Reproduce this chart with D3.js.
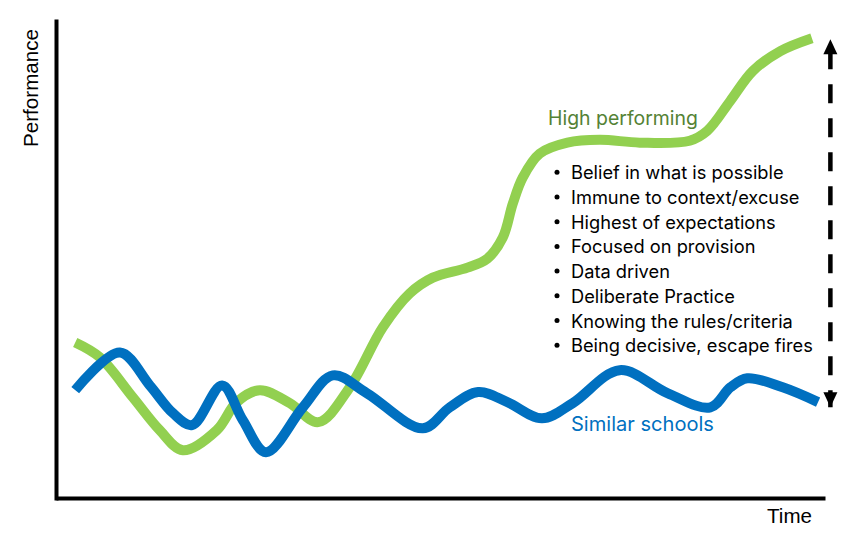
<!DOCTYPE html>
<html><head><meta charset="utf-8">
<script src="https://cdn.jsdelivr.net/npm/d3@7"></script>
<style>html,body{margin:0;padding:0;background:#fff}svg{display:block}</style>
</head><body>
<svg id="chart" width="866" height="536"></svg>
<script>
// ---- data (time 0-100, performance 0-100) ----
const highTime = [2.5, 5.7, 10.0, 13.5, 16.5, 20.9, 23.5, 26.5, 30.4, 34.1, 38.2, 42.5, 46.0, 49.0, 53.5, 56.1, 58.1, 59.4, 60.7, 62.9, 66.5, 70.7, 75.9, 82.4, 84.7, 87.7, 90.6, 94.2, 98.3];
const highPerf = [32.6, 29.5, 21.1, 14.2, 10.0, 14.2, 20.1, 22.6, 19.9, 15.9, 23.2, 35.8, 42.9, 46.2, 48.3, 50.2, 54.6, 61.7, 67.2, 72.2, 74.5, 75.1, 74.5, 74.9, 77.0, 83.3, 89.5, 93.7, 96.4];
const similarTime = [2.5, 8.3, 12.2, 15.2, 17.7, 21.6, 24.3, 27.3, 32.1, 36.0, 40.4, 47.7, 51.2, 54.9, 58.7, 63.2, 67.2, 73.3, 79.5, 85.1, 87.7, 89.9, 94.5, 99.1];
const similarPerf = [22.6, 30.5, 23.6, 17.8, 15.3, 23.6, 16.3, 9.6, 19.0, 25.7, 22.0, 14.6, 19.0, 22.2, 20.1, 16.7, 19.9, 26.8, 22.0, 19.0, 23.2, 25.1, 23.2, 20.1];
const seriesNames = ["High performing", "Similar schools"];
const bulletItems = ["Belief in what is possible", "Immune to context/excuse", "Highest of expectations", "Focused on provision", "Data driven", "Deliberate Practice", "Knowing the rules/criteria", "Being decisive, escape fires"];
const axisTitles = ["Time", "Performance"];
const gapArrowTime = 100.7;
const gapArrowPerf = [96.2, 19.0];

// ---- setup ----
const svg = d3.select("#chart");
const x = d3.scaleLinear().domain([0, 100]).range([56, 825]);
const y = d3.scaleLinear().domain([0, 100]).range([498, 21]);

function fit(sel, target) {
  const w = sel.node().getComputedTextLength();
  const fs = parseFloat(sel.attr("font-size"));
  sel.attr("font-size", (fs * target / w).toFixed(2));
  return fs * target / w;
}

// axes
const gx = svg.append("g").attr("transform", `translate(0,${y(0)})`)
  .call(d3.axisBottom(x).tickValues([]).tickSizeOuter(0));
gx.select(".domain").attr("stroke", "#000").attr("stroke-width", 4).attr("stroke-linecap", "butt");
const gy = svg.append("g").attr("transform", `translate(${x(0)},0)`)
  .call(d3.axisLeft(y).tickValues([]).tickSizeOuter(0));
gy.select(".domain").attr("stroke", "#000").attr("stroke-width", 4).attr("stroke-linecap", "square");

// axis titles
const tTime = svg.append("text").attr("x", 767).attr("y", 523)
  .attr("font-family", "'Liberation Sans', Arial, sans-serif").attr("font-size", 19)
  .attr("fill", "#000").text(axisTitles[0]);
fit(tTime, 45);
const tPerf = svg.append("text").attr("transform", "translate(38,88) rotate(-90)")
  .attr("text-anchor", "middle")
  .attr("font-family", "'Liberation Sans', Arial, sans-serif").attr("font-size", 19)
  .attr("fill", "#000").text(axisTitles[1]);
fit(tPerf, 118);

// lines
const line = d3.line().x(d => x(d[0])).y(d => y(d[1])).curve(d3.curveCatmullRom.alpha(0.5));
const highData = d3.zip(highTime, highPerf);
const simData = d3.zip(similarTime, similarPerf);

svg.append("path").datum(highData).attr("d", line)
  .attr("fill", "none").attr("stroke", "#92D050").attr("stroke-width", 10).attr("stroke-linecap", "butt").attr("stroke-linejoin", "round");
svg.append("path").datum(simData).attr("d", line)
  .attr("fill", "none").attr("stroke", "#0070C0").attr("stroke-width", 10).attr("stroke-linecap", "butt").attr("stroke-linejoin", "round");

// series labels
const font2 = "Inter, 'Open Sans', 'Noto Sans', sans-serif";
const hl = svg.append("text").attr("x", 548).attr("y", 125)
  .attr("font-family", font2).attr("font-size", 19).attr("fill", "#548235").text(seriesNames[0]);
fit(hl, 150);
const sl = svg.append("text").attr("x", 571).attr("y", 431)
  .attr("font-family", font2).attr("font-size", 19).attr("fill", "#0070C0").text(seriesNames[1]);
fit(sl, 143);

// bullet list
const bg = svg.append("g");
const rows = bg.selectAll("g.row").data(bulletItems).join("g").attr("class", "row")
  .attr("transform", (d, i) => `translate(0,${179.3 + i * 24.7})`);
rows.append("circle").attr("cx", 557).attr("cy", -7).attr("r", 2.5).attr("fill", "#000");
const txt = rows.append("text").attr("x", 571).attr("y", 0)
  .attr("font-family", font2).attr("font-size", 19).attr("fill", "#000").text(d => d);
const longest = txt.filter((d, i) => i === bulletItems.length - 1);
const fs = fit(longest, 242);
txt.attr("font-size", fs.toFixed(2));

// dashed double arrow
const ax = x(gapArrowTime);
const yTop = y(gapArrowPerf[0]);
const yBot = y(gapArrowPerf[1]);
svg.append("line").attr("x1", ax).attr("x2", ax).attr("y1", yTop + 11).attr("y2", yBot)
  .attr("stroke", "#000").attr("stroke-width", 4.5).attr("stroke-dasharray", "19,15");
svg.append("path").attr("d", `M${ax},${yTop} L${ax + 7},${yTop + 15} L${ax - 7},${yTop + 15} Z`).attr("fill", "#000");
svg.append("path").attr("d", `M${ax},${yBot} L${ax + 7},${yBot - 15} L${ax - 7},${yBot - 15} Z`).attr("fill", "#000");
</script>
</body></html>
